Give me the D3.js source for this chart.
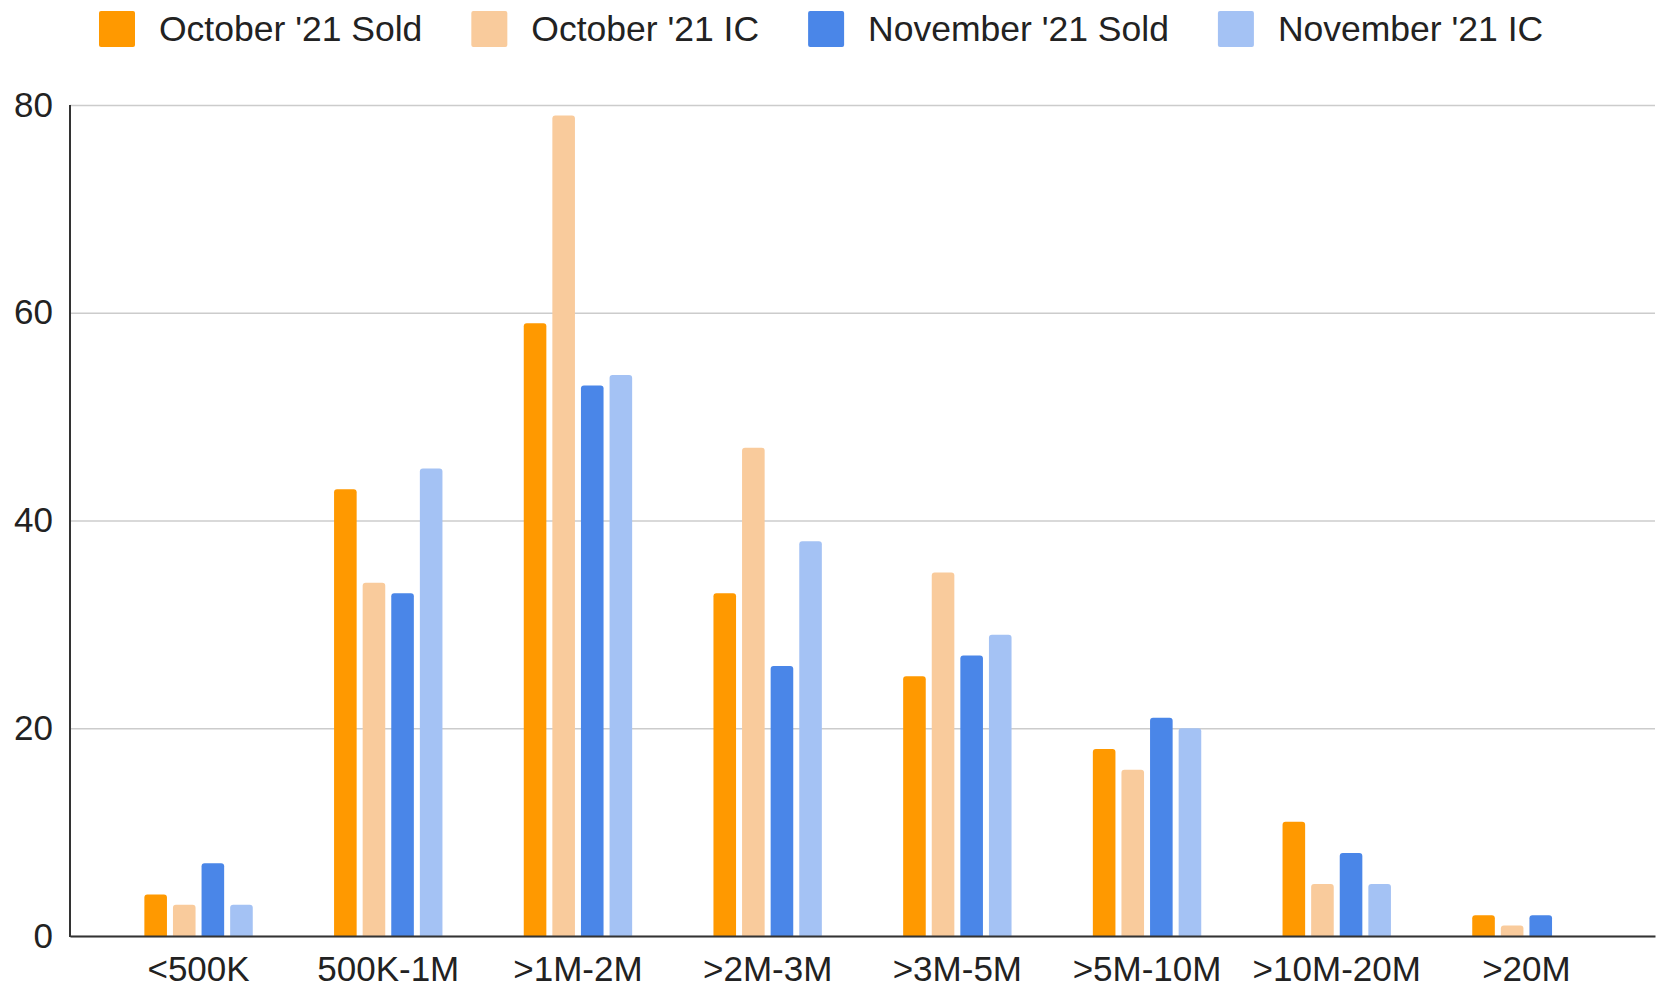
<!DOCTYPE html>
<html>
<head>
<meta charset="utf-8">
<script src="https://cdn.jsdelivr.net/npm/d3@7"></script>
<style>
  body { margin: 0; background: #fff; }
  text { font-family: "Liberation Sans", Arial, sans-serif; fill: #222; }
</style>
</head>
<body>
<div id="chart"></div>
<script>
const categories = ["<500K", "500K-1M", ">1M-2M", ">2M-3M", ">3M-5M", ">5M-10M", ">10M-20M", ">20M"];
const seriesNames = ["October '21 Sold", "October '21 IC", "November '21 Sold", "November '21 IC"];
const octSold = [4, 43, 59, 33, 25, 18, 11, 2];
const octIC = [3, 34, 79, 47, 35, 16, 5, 1];
const novSold = [7, 33, 53, 26, 27, 21, 8, 2];
const novIC = [3, 45, 54, 38, 29, 20, 5, 0];
const yTicks = [0, 20, 40, 60, 80];
const colors = ["#ff9900", "#f9cb9c", "#4a86e8", "#a4c2f4"];

const seriesValues = [octSold, octIC, novSold, novIC];

const margin = { top: 105, right: 10, bottom: 52, left: 70 };
const width = 1665 - margin.left - margin.right;
const height = 988 - margin.top - margin.bottom;
const fontSize = 35;

const root = d3.select("#chart")
  .append("svg")
  .attr("width", 1665)
  .attr("height", 988);

const svg = root.append("g")
  .attr("transform", `translate(${margin.left},${margin.top})`);

const x0 = d3.scaleBand()
  .domain(categories)
  .range([0, width])
  .paddingInner(0.4286)
  .paddingOuter(0.392);

const x1 = d3.scaleBand()
  .domain(seriesNames)
  .range([0, x0.bandwidth()])
  .paddingInner(0.21);

const y = d3.scaleLinear()
  .domain([0, 80])
  .range([height, 0]);

const color = d3.scaleOrdinal(seriesNames, colors);

// Grid lines
svg.append("g")
  .call(d3.axisLeft(y).tickValues(yTicks).tickSize(-width).tickFormat(""))
  .call(g => g.select(".domain").remove())
  .selectAll("line")
  .attr("stroke", "#cccccc")
  .attr("stroke-width", 1.5);

// Y labels
svg.append("g")
  .call(d3.axisLeft(y).tickValues(yTicks).tickSize(0).tickPadding(17))
  .call(g => g.select(".domain").remove())
  .selectAll("text")
  .attr("font-size", fontSize + "px")
  .attr("font-family", "'Liberation Sans', Arial, sans-serif")
  .attr("fill", "#222");

// Bars with rounded tops
const rows = categories.map((c, i) => ({
  cat: c,
  values: seriesNames.map((s, j) => ({ series: s, value: seriesValues[j][i] }))
}));

function barPath(x, yTop, w, h) {
  if (h <= 0) return "";
  const r = Math.min(3, h, w / 2);
  return `M${x},${yTop + h}V${yTop + r}Q${x},${yTop} ${x + r},${yTop}` +
    `H${x + w - r}Q${x + w},${yTop} ${x + w},${yTop + r}V${yTop + h}Z`;
}

svg.append("g")
  .selectAll("g")
  .data(rows)
  .join("g")
  .attr("transform", d => `translate(${x0(d.cat)},0)`)
  .selectAll("path")
  .data(d => d.values)
  .join("path")
  .attr("fill", d => color(d.series))
  .attr("d", d => barPath(x1(d.series), y(d.value), x1.bandwidth(), height - y(d.value)));

// X axis
svg.append("g")
  .attr("transform", `translate(0,${height})`)
  .call(d3.axisBottom(x0).tickSize(0).tickPadding(20))
  .call(g => g.select(".domain").attr("stroke", "#333").attr("stroke-width", 2))
  .selectAll("text")
  .attr("font-size", fontSize + "px")
  .attr("font-family", "'Liberation Sans', Arial, sans-serif")
  .attr("fill", "#222");

// Left axis line
svg.append("line")
  .attr("x1", 0).attr("x2", 0)
  .attr("y1", 0).attr("y2", height + 1)
  .attr("stroke", "#333")
  .attr("stroke-width", 2);

// Legend
const legend = root.append("g").attr("transform", "translate(99,11)");
let lx = 0;
seriesNames.forEach(name => {
  const item = legend.append("g").attr("transform", `translate(${lx},0)`);
  item.append("rect")
    .attr("width", 36)
    .attr("height", 36)
    .attr("rx", 2)
    .attr("fill", color(name));
  const t = item.append("text")
    .attr("x", 60)
    .attr("y", 18)
    .attr("dy", "0.35em")
    .attr("font-size", "35.5px")
    .text(name);
  lx += 60 + t.node().getComputedTextLength() + 49;
});
</script>
</body>
</html>
